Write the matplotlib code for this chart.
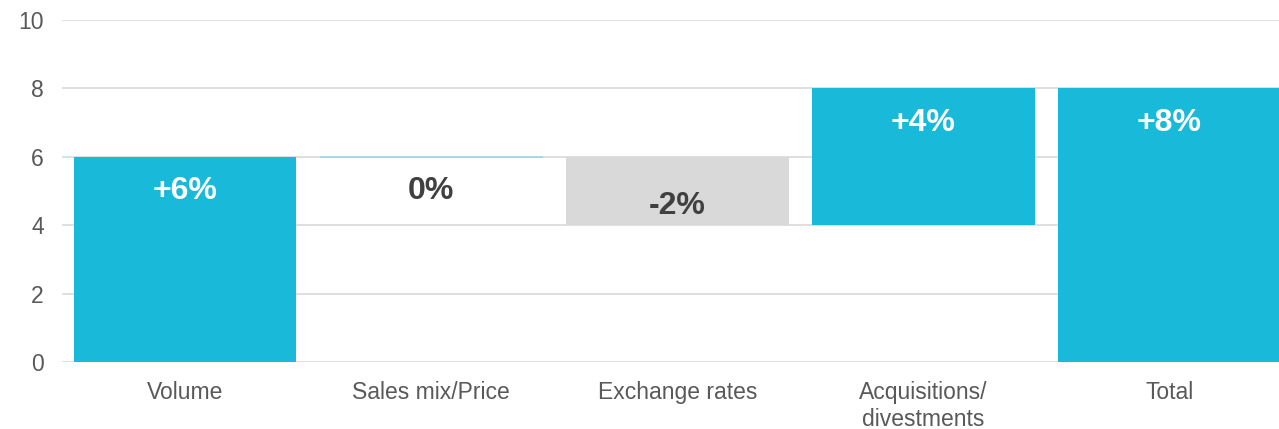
import numpy as np
import matplotlib.pyplot as plt

plt.rcParams['font.family'] = ['Liberation Sans', 'DejaVu Sans']

# waterfall data
categories = ['Volume', 'Sales mix/Price', 'Exchange rates', 'Acquisitions/\ndivestments', 'Total']
changes = [6, 0, -2, 4]
total = 8
bar_labels = ['+6%', '0%', '-2%', '+4%', '+8%']

cyan = '#19b9d9'
grey = '#d9d9d9'

# build bottoms / heights from the changes
ends = np.cumsum(changes)
starts = np.concatenate([[0], ends[:-1]])
bottoms = list(np.minimum(starts, ends)) + [0]
heights = list(np.abs(changes)) + [total]
colors = [grey if c < 0 else cyan for c in changes] + [cyan]
txt_colors = ['white' if (c > 0) else '#404040' for c in changes] + ['white']

fig = plt.figure(figsize=(12.79, 4.29), dpi=100)
ax = fig.add_axes([62 / 1279, 67 / 429, 1 - 62 / 1279, (362 - 20) / 429])

x = np.arange(len(categories))
w = 0.905
ax.bar(x, heights, bottom=bottoms, width=w, color=colors, zorder=2)

# zero-height bar shows as a faint line
for i, c in enumerate(changes):
    if c == 0:
        ax.hlines(starts[i], i - w / 2, i + w / 2, color='#9fd8e6', lw=1.2, zorder=3)

for i, lab in enumerate(bar_labels):
    top = bottoms[i] + heights[i]
    if i < len(changes) and changes[i] < 0:
        ypos = bottoms[i] + 0.55
    else:
        ypos = top - 1.0
    ax.text(i, ypos, lab, ha='center', va='center', fontsize=23,
            fontweight='bold', color=txt_colors[i], zorder=4)

ax.set_ylim(0, 10)
ax.set_xlim(-0.5, 4.445)
ax.set_yticks([0, 2, 4, 6, 8, 10])
ax.set_xticks(x)
ax.set_xticklabels(categories)
ax.grid(axis='y', color='#d9d9d9', lw=1.2, zorder=0)
ax.set_axisbelow(True)
for s in ax.spines.values():
    s.set_visible(False)
ax.tick_params(axis='both', length=0, labelsize=16.5, colors='#595959')
ax.tick_params(axis='y', pad=13)
ax.tick_params(axis='x', pad=14)

fig.savefig('out.png', dpi=100)
